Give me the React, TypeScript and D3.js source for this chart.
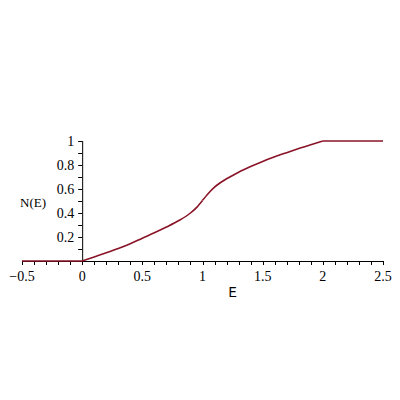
import React from "react";
import * as d3 from "d3";

// values
const energies = [-0.5, 0, 0.1, 0.2, 0.3, 0.4, 0.5, 0.6, 0.7, 0.8, 0.9, 0.95, 1.0, 1.05, 1.1, 1.2, 1.3, 1.4, 1.5, 1.6, 1.7, 1.8, 1.9, 2.0, 2.5];
const counts = [0, 0, 0.034, 0.068, 0.104, 0.144, 0.19, 0.235, 0.283, 0.335, 0.4, 0.445, 0.505, 0.565, 0.615, 0.685, 0.74, 0.787, 0.83, 0.868, 0.903, 0.937, 0.969, 1.0, 1.0];
// the curve has corners at these energies
const breaks = [0, 1, 2];
const xTicks = [-0.5, 0, 0.5, 1, 1.5, 2, 2.5];
const yTicks = [0.2, 0.4, 0.6, 0.8, 1];

const App = () => {
  const width = 400,
    height = 400,
    color = "#8a1327";

  const x = d3.scaleLinear().domain([-0.5, 2.5]).range([22, 383]);
  const y = d3.scaleLinear().domain([0, 1]).range([261, 141]);

  const data = energies.map((e, i) => ({ e, n: counts[i] }));
  const edges = [-0.5, ...breaks, 2.5];
  const pieces = d3.pairs(edges).map(([a, b]) =>
    data.filter((d) => d.e >= a && d.e <= b)
  );

  const line = d3
    .line<{ e: number; n: number }>()
    .x((d) => x(d.e))
    .y((d) => y(d.n))
    .curve(d3.curveMonotoneX);

  const xMinor = d3.range(-5, 26).map((k) => k / 10);
  const yMinor = d3.range(1, 11).map((k) => k / 10);

  const serif = { fontFamily: "'Liberation Serif', 'Times New Roman', 'DejaVu Serif', serif" };
  const mono = { fontFamily: "'Liberation Mono', 'Courier New', 'DejaVu Sans Mono', monospace" };

  return (
    <svg
      width={width}
      height={height}
      style={{ position: "absolute", left: 0, top: 0, background: "#fff" }}
    >
      {/* x axis */}
      <line x1={x(-0.5)} x2={x(2.5)} y1={y(0) + 0.5} y2={y(0) + 0.5} stroke="#000" />
      {xMinor.map((t) => (
        <line key={"xm" + t} x1={Math.round(x(t)) + 0.5} x2={Math.round(x(t)) + 0.5} y1={y(0)} y2={y(0) + 4} stroke="#000" />
      ))}
      {xTicks.map((t) => (
        <text key={"xt" + t} x={x(t)} y={281} textAnchor="middle" style={serif} fontSize={14}>
          {t < 0 ? "\u2212" + Math.abs(t) : t}
        </text>
      ))}
      <text x={x(1.25)} y={297} textAnchor="middle" style={mono} fontSize={14}>
        E
      </text>

      {/* y axis */}
      <line x1={x(0) + 0.5} x2={x(0) + 0.5} y1={y(0)} y2={y(1)} stroke="#000" />
      {yMinor.map((t) => (
        <line key={"ym" + t} x1={x(0) - 4} x2={x(0)} y1={Math.round(y(t)) + 0.5} y2={Math.round(y(t)) + 0.5} stroke="#000" />
      ))}
      {yTicks.map((t) => (
        <text key={"yt" + t} x={x(0) - 8} y={y(t) + 5} textAnchor="end" style={serif} fontSize={14}>
          {t}
        </text>
      ))}
      <text x={20} y={207} style={serif} fontSize={13}>
        N(E)
      </text>

      {pieces.map((p, i) => (
        <path key={i} d={line(p) ?? ""} fill="none" stroke={color} strokeWidth={1.6} strokeLinejoin="round" />
      ))}
    </svg>
  );
};

export default App;
